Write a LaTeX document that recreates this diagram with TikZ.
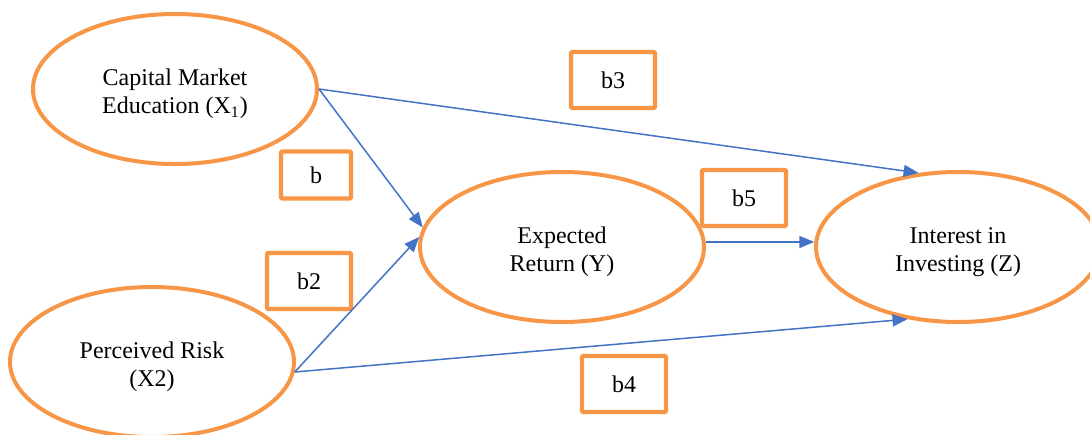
\documentclass[tikz,border=0pt]{standalone}
\usepackage{fontspec}
\setmainfont{Liberation Serif}
\usetikzlibrary{shapes.geometric,arrows.meta}
\definecolor{accorange}{HTML}{F79646}
\definecolor{accblue}{HTML}{4472C4}
\begin{document}
\begin{tikzpicture}[x=0.5pt,y=-0.5pt]
    \tikzstyle{every node}+=[font=\fontsize{12}{14}\selectfont]
    \tikzstyle{var}=[ellipse, draw=accorange, line width=2pt, minimum width=142pt, minimum height=75pt, align=center, inner sep=0pt, text height=27.5pt, text depth=3pt]
    \tikzstyle{coef}=[rectangle, draw=accorange, line width=2.2pt, minimum width=42pt, minimum height=28pt, rounded corners=0.6pt]
    \tikzstyle{link}=[draw=accblue, line width=0.75pt, -{Triangle[length=7.5pt,width=6pt]}]
    \clip (0,0) rectangle (1090,434);
    \useasboundingbox (0,0) rectangle (1090,434);
    \node [var] (cme) at (175,89) {Capital Market\\Education (X\textsubscript{1})};
    \node [var] (pr) at (152,362) {Perceived Risk\\(X2)};
    \node [var] (er) at (562,247) {Expected\\Return (Y)};
    \node [var] (iz) at (958,247) {Interest in\\Investing (Z)};
    \node [coef, minimum width=35pt, minimum height=23.5pt] (cb) at (316,175) {b};
    \node [coef] (cb2) at (309,281) {b2};
    \node [coef] (cb3) at (613,80) {b3};
    \node [coef] (cb4) at (624,384) {b4};
    \node [coef] (cb5) at (744,198) {b5};
    \draw [link] (cme.east) -- (er.172);
    \draw [link] (cme.east) -- (iz.118);
    \draw [link] (pr.356) -- (er.176);
    \draw [link] (pr.356) -- (iz.235);
    \draw [link] (er.2) -- (iz.178);
\end{tikzpicture}
\end{document}
